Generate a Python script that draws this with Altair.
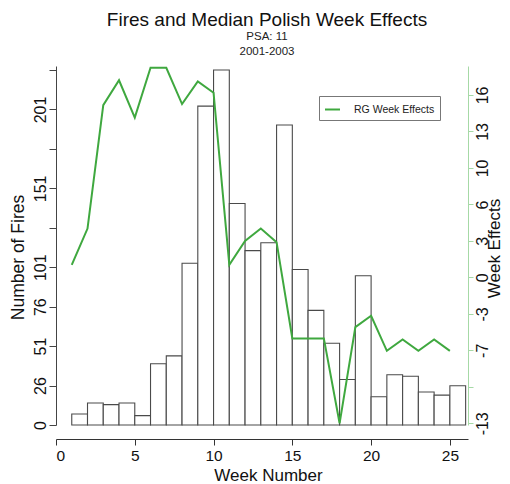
import altair as alt
import pandas as pd

FONT = "Liberation Sans"
GREEN = "#3fa83f"

# ---- data ----
weeks = list(range(1, 26))
fires = [7, 14, 13, 14, 6, 39, 44, 103, 203, 226, 141, 111, 116, 191, 99,
         73, 52, 29, 95, 18, 32, 31, 21, 19, 25]
effects = [1.0, 4.2, 15.1, 17.3, 14.0, 18.4, 18.4, 15.2, 17.2, 16.2, 1.0, 3.1,
           4.2, 3.0, -5.5, -5.5, -5.5, -13.0, -4.5, -3.5, -6.6, -5.6, -6.6,
           -5.6, -6.6]

x_ticks = [0, 5, 10, 15, 20, 25]
left_ticks = [0, 25.1111, 50.2222, 75.3333, 100.4444, 125.5556, 150.6667,
              175.7778, 200.8889, 226]
left_labels = ["0", "26", "51", "76", "101", "", "151", "", "201", ""]
right_ticks = [-13, -9.7778, -6.5556, -3.3333, -0.1111, 3.1111, 6.3333,
               9.5556, 12.7778, 16]
right_labels = ["-13", "", "-7", "-3", "0", "3", "6", "10", "13", "16"]


def label_expr(ticks, labels):
    expr = "''"
    for t, lab in reversed(list(zip(ticks, labels))):
        expr = f"abs(datum.value - ({t})) < 0.01 ? '{lab}' : ({expr})"
    return expr


df = pd.DataFrame({"week": weeks, "fires": fires, "effect": effects})
base = alt.Chart(df)

bars = base.transform_calculate(week_end="datum.week + 1").mark_rect(
    fill="white", stroke="#4a4a4a", strokeWidth=1.1
).encode(
    x=alt.X(
        "week:Q",
        scale=alt.Scale(domain=[0, 26.15], nice=False, zero=False),
        axis=alt.Axis(
            values=x_ticks, title="Week Number", format="d", grid=False,
            offset=14, tickSize=6, domainColor="#333", tickColor="#333",
            labelFontSize=15.5, labelPadding=3, labelColor="#111",
            labelFont=FONT, titleFontSize=17, titleFont=FONT,
            titleFontWeight="normal", titleColor="#111", titleX=212,
            titleY=41, titleBaseline="alphabetic", titleAlign="center",
        ),
    ),
    x2="week_end:Q",
    y=alt.Y(
        "fires:Q",
        scale=alt.Scale(domain=[0, 228.55], nice=False),
        axis=alt.Axis(
            values=left_ticks, labelExpr=label_expr(left_ticks, left_labels),
            title="Number of Fires", grid=False, tickSize=7,
            domainColor="#444", tickColor="#444", labelOverlap=False,
            labelAngle=270, labelAlign="center", labelBaseline="alphabetic",
            labelPadding=4, labelFontSize=16, labelColor="#111", labelFont=FONT,
            titleAngle=270, titleFontSize=17.5, titleFont=FONT,
            titleFontWeight="normal", titleColor="#111",
            titleX=-38, titleY=191, titleBaseline="middle", titleAlign="center",
        ),
    ),
    y2=alt.datum(0),
)

line = base.transform_calculate(series="'RG Week Effects'").mark_line(
    strokeWidth=2, clip=False
).encode(
    x="week:Q",
    y=alt.Y(
        "effect:Q",
        scale=alt.Scale(domain=[-13.15, 18.56], nice=False, zero=False),
        axis=alt.Axis(
            orient="right", values=right_ticks,
            labelExpr=label_expr(right_ticks, right_labels),
            title="Week Effects", grid=False, tickSize=5,
            domainColor="#a6d9a6", tickColor="#a6d9a6", labelOverlap=False,
            labelAngle=270, labelAlign="center", labelBaseline="top",
            labelPadding=1, labelFontSize=16, labelColor="#111", labelFont=FONT,
            titleAngle=270, titleFontSize=17, titleFont=FONT,
            titleFontWeight="normal", titleColor="#111",
            titleX=26, titleY=182, titleBaseline="middle", titleAlign="center",
        ),
    ),
    color=alt.Color(
        "series:N",
        scale=alt.Scale(domain=["RG Week Effects"], range=[GREEN]),
        legend=alt.Legend(
            orient="none", legendX=263, legendY=30, title=None,
            strokeColor="#777", fillColor="white", padding=5,
            symbolType="stroke", symbolSize=225, symbolStrokeWidth=2,
            labelFontSize=10.5, labelOffset=13, labelFont=FONT,
            labelColor="#222",
        ),
    ),
)

chart = alt.layer(bars, line).resolve_scale(y="independent").properties(
    width=412,
    height=359,
    autosize=alt.AutoSizeParams(type="none"),
    padding={"left": 48, "top": 58, "right": 34, "bottom": 59},
    title=alt.TitleParams(
        text="Fires and Median Polish Week Effects",
        subtitle=["PSA: 11", "2001-2003"],
        fontSize=19, fontWeight="normal", font=FONT, color="#111",
        subtitleFontSize=11.5, subtitleFont=FONT, subtitleColor="#222",
        subtitleLineHeight=15, subtitlePadding=1,
        anchor="middle", offset=6, dx=5,
    ),
).configure_view(stroke=None)

chart.save("out.html", embed_options={"renderer": "svg", "actions": False})
